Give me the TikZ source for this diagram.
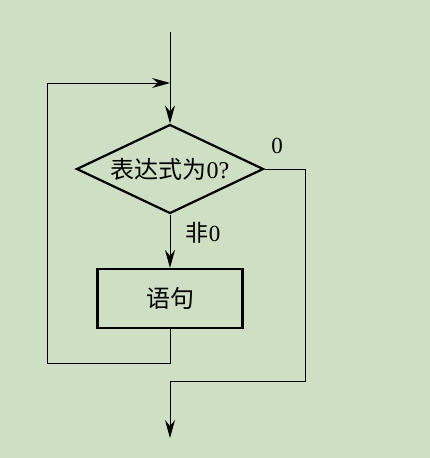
\documentclass[tikz,border=0pt]{standalone}
\usepackage{fontspec}
\setmainfont{Liberation Serif}
\newfontfamily\cjk{Noto Sans CJK SC}
\usetikzlibrary{arrows.meta,shapes.geometric}
\definecolor{bgpaper}{RGB}{207,223,195}

\begin{document}
\begin{tikzpicture}[x=1pt,y=-1pt,
		flow/.style={line width=1pt,-{Stealth[length=18pt,width=10pt,inset=6pt]}},
		wire/.style={line width=1pt},
		decision/.style={diamond,draw,line width=2.2pt,minimum width=187pt,minimum height=89pt,inner sep=0pt,aspect=2.1},
		stmtbox/.style={rectangle,draw,line width=2.2pt,minimum width=145pt,minimum height=59pt,inner sep=0pt}]
		% Page
		\fill[bgpaper] (0,0) rectangle (430,458);
		\useasboundingbox (0,0) rectangle (430,458);

		% Shapes
		\node[decision] (cond) at (170,169) {\fontsize{24}{28}\selectfont{\cjk 表达式为}0?};
		\node[stmtbox] (body) at (170,298.5) {\fontsize{24}{28}\selectfont\cjk 语句};

		% Turning points
		\coordinate (start) at (170,32);
		\coordinate (join) at (170,83);
		\coordinate (back) at (47,363);
		\coordinate (exitR) at (305,381);
		\coordinate (exitM) at (170,381);
		\coordinate (end) at (170,438);

		% Labels for branches
		\node (zero) at (277,146) {\fontsize{23}{26}\selectfont 0};
		\node (nonzero) at (203,233) {\fontsize{23}{26}\selectfont{\cjk 非}0};

		% Connecting lines
		\draw[flow] (start) -- (cond.north);
		\draw[flow] (cond.south) -- (body.north);
		\draw[flow] (body.south) |- (back) |- (join);
		\draw[wire] (cond.east) -| (exitR) -- (exitM);
		\draw[flow] (exitM) -- (end);
	\end{tikzpicture}
\end{document}
